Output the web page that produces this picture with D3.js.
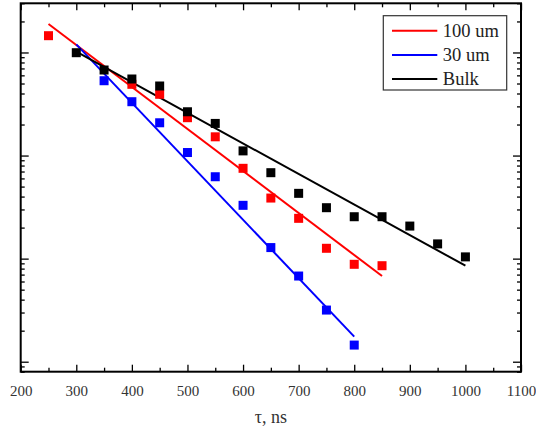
<!DOCTYPE html>
<html>
<head>
<meta charset="utf-8">
<script src="https://cdn.jsdelivr.net/npm/d3@7"></script>
<style>
  body { margin: 0; background: #fff; }
  svg { display: block; }
  text { font-family: "Liberation Serif", "Times New Roman", serif; }
</style>
</head>
<body>
<div id="chart"></div>
<script>
// measured points, [tau in ns, signal] (arbitrary units, log scale)
const red100 = [
  [250, 1455], [400, 491], [450, 393], [500, 233], [550, 152], [600, 75.2],
  [650, 38.7], [700, 24.6], [750, 12.6], [800, 8.81], [850, 8.54]
];
const blue30 = [
  [350, 532], [400, 333], [450, 208], [500, 107], [550, 62.3], [600, 32.9],
  [650, 12.8], [700, 6.78], [750, 3.17], [800, 1.45]
];
const bulk = [
  [300, 995], [350, 676], [400, 553], [450, 473], [500, 266], [550, 205],
  [600, 111], [650, 68.2], [700, 43], [750, 31.2], [800, 25.5], [850, 25.5],
  [900, 20.7], [950, 13.9], [1000, 10.4]
];

// exponential fits (end points)
const fitRed = [[250, 1889], [850, 6.78]];
const fitBlue = [[300, 1200], [800, 1.75]];
const fitBulk = [[300, 1017], [1000, 8.54]];

const xTicks = [200, 300, 400, 500, 600, 700, 800, 900, 1000, 1100];
const xMinor = [250, 350, 450, 550, 650, 750, 850, 950, 1050];
const yMajor = [1, 10, 100, 1000];

const series = [
  {name: '100 um', color: '#ff0000', pts: red100, fit: fitRed},
  {name: '30 um', color: '#0000ff', pts: blue30, fit: fitBlue},
  {name: 'Bulk', color: '#000000', pts: bulk, fit: fitBulk}
];

const width = 536;
const height = 431;
const margin = {top: 3.3, right: 15, bottom: 59.3, left: 20.7};
const serif = '"Liberation Serif", "Times New Roman", serif';

const svg = d3.select('#chart').append('svg')
  .attr('width', width)
  .attr('height', height);

const xScale = d3.scaleLinear()
  .domain([200, 1100])
  .range([margin.left, width - margin.right]);

const yScale = d3.scaleLog()
  .domain([0.8, 3000])
  .range([height - margin.bottom, margin.top]);

// minor log ticks
const yMinor = [];
[0.1, 1, 10, 100, 1000].forEach(dec => {
  for (let k = 2; k <= 9; k++) {
    const v = dec * k;
    if (v >= 0.8 && v <= 3000) yMinor.push(v);
  }
});

const x0 = margin.left, x1 = width - margin.right;
const y0 = height - margin.bottom, y1 = margin.top;

// fit lines, then squares on top
const line = d3.line()
  .x(d => xScale(d[0]))
  .y(d => yScale(d[1]));

const sq = 9;
series.forEach(s => {
  svg.append('path')
    .datum(s.fit)
    .attr('d', line)
    .attr('fill', 'none')
    .attr('stroke', s.color)
    .attr('stroke-width', 2);
});
series.forEach(s => {
  svg.append('g').selectAll('rect')
    .data(s.pts)
    .enter().append('rect')
    .attr('x', d => xScale(d[0]) - sq / 2)
    .attr('y', d => yScale(d[1]) - sq / 2)
    .attr('width', sq)
    .attr('height', sq)
    .attr('fill', s.color);
});

// axes, ticks inward on all four sides
function styleAxis(g) {
  g.attr('font-family', serif);
  g.select('.domain').remove();
  g.selectAll('.tick line').attr('stroke', '#000').attr('stroke-width', 1.3);
}

svg.append('g')
  .attr('transform', `translate(0, ${y0})`)
  .call(d3.axisBottom(xScale).tickValues(xTicks).tickSize(-7).tickPadding(14)
    .tickFormat(d3.format('d')))
  .call(styleAxis)
  .call(g => g.selectAll('text')
    .attr('fill', '#333')
    .style('font-size', '15px'));

svg.append('g')
  .attr('transform', `translate(0, ${y0})`)
  .call(d3.axisBottom(xScale).tickValues(xMinor).tickSize(-4).tickFormat(''))
  .call(styleAxis);

svg.append('g')
  .attr('transform', `translate(0, ${y1})`)
  .call(d3.axisTop(xScale).tickValues(xTicks).tickSize(-7).tickFormat(''))
  .call(styleAxis);

svg.append('g')
  .attr('transform', `translate(0, ${y1})`)
  .call(d3.axisTop(xScale).tickValues(xMinor).tickSize(-4).tickFormat(''))
  .call(styleAxis);

svg.append('g')
  .attr('transform', `translate(${x0}, 0)`)
  .call(d3.axisLeft(yScale).tickValues(yMajor).tickSize(-8).tickFormat(''))
  .call(styleAxis);

svg.append('g')
  .attr('transform', `translate(${x0}, 0)`)
  .call(d3.axisLeft(yScale).tickValues(yMinor).tickSize(-4).tickFormat(''))
  .call(styleAxis);

svg.append('g')
  .attr('transform', `translate(${x1}, 0)`)
  .call(d3.axisRight(yScale).tickValues(yMajor).tickSize(-8).tickFormat(''))
  .call(styleAxis);

svg.append('g')
  .attr('transform', `translate(${x1}, 0)`)
  .call(d3.axisRight(yScale).tickValues(yMinor).tickSize(-4).tickFormat(''))
  .call(styleAxis);

// frame
svg.append('rect')
  .attr('x', x0)
  .attr('y', y1)
  .attr('width', x1 - x0)
  .attr('height', y0 - y1)
  .attr('fill', 'none')
  .attr('stroke', '#000')
  .attr('stroke-width', 2);

// axis title
svg.append('text')
  .attr('x', (x0 + x1) / 2)
  .attr('y', 423)
  .attr('text-anchor', 'middle')
  .attr('fill', '#333')
  .style('font-size', '18px')
  .text('τ, ns');

// legend
const legendX = 383.3;
const legendY = 15.7;
const legend = svg.append('g').attr('class', 'legend');

legend.append('rect')
  .attr('x', legendX)
  .attr('y', legendY)
  .attr('width', 123.4)
  .attr('height', 74.3)
  .attr('fill', '#fff')
  .attr('stroke', '#333')
  .attr('stroke-width', 1.2);

series.forEach((s, i) => {
  const ly = legendY + 15 + i * 24.2;
  legend.append('line')
    .attr('x1', legendX + 8.7)
    .attr('x2', legendX + 54)
    .attr('y1', ly)
    .attr('y2', ly)
    .attr('stroke', s.color)
    .attr('stroke-width', 2);
  legend.append('text')
    .attr('x', legendX + 59.5)
    .attr('y', ly)
    .attr('dy', '0.33em')
    .attr('fill', '#222')
    .style('font-size', '18.5px')
    .text(s.name);
});
</script>
</body>
</html>
